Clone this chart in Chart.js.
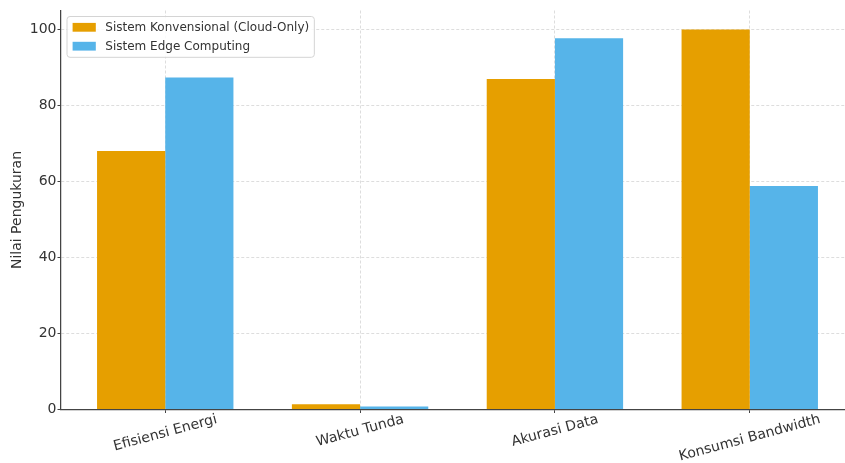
<!DOCTYPE html>
<html>
<head>
<meta charset="utf-8">
<script src="https://cdn.jsdelivr.net/npm/chart.js@4/dist/chart.umd.min.js"></script>
<style>
  html, body { margin: 0; padding: 0; background: #fff; overflow: hidden; width: 845px; height: 463px; }
  canvas { display: block; }
</style>
</head>
<body>
<canvas id="c" width="854" height="463"></canvas>
<script>
// Measured values per category
const categories = ['Efisiensi Energi', 'Waktu Tunda', 'Akurasi Data', 'Konsumsi Bandwidth'];
const seriesNames = ['Sistem Konvensional (Cloud-Only)', 'Sistem Edge Computing'];
const cloudOnly = [68, 1.4, 87, 100];
const edgeComputing = [87.4, 0.8, 97.7, 58.8];
const yTicks = [0, 20, 40, 60, 80, 100];
const yLabel = 'Nilai Pengukuran';

const FONT = "'DejaVu Sans', sans-serif";
const TEXT = '#333333';
const SPINE = '#444444';
const colors = ['#E69F00', '#56B4E9'];

const toPoints = arr => arr.map((v, i) => ({ x: i, y: v }));

// Rotated category labels, y-axis title and an in-axes legend
const decorations = {
  id: 'decorations',
  afterDraw(chart) {
    const ctx = chart.ctx;
    const xs = chart.scales.x;
    const area = chart.chartArea;

    // category labels, rotated 15 degrees, centred under each group
    const ang = 15 * Math.PI / 180;
    ctx.save();
    ctx.font = '14px ' + FONT;
    ctx.fillStyle = TEXT;
    ctx.textAlign = 'center';
    ctx.textBaseline = 'middle';
    categories.forEach((label, i) => {
      const w = ctx.measureText(label).width;
      const h = 13;
      const H = w * Math.sin(ang) + h * Math.cos(ang);
      const cx = xs.getPixelForValue(i);
      const cy = area.bottom + 3.5 + H / 2;
      ctx.save();
      ctx.translate(cx, cy);
      ctx.rotate(-ang);
      ctx.fillText(label, 0, 0);
      ctx.restore();
    });
    ctx.restore();

    // y-axis title
    ctx.save();
    ctx.font = '14px ' + FONT;
    ctx.fillStyle = TEXT;
    ctx.textAlign = 'center';
    ctx.textBaseline = 'middle';
    ctx.translate(17, (area.top + area.bottom) / 2);
    ctx.rotate(-Math.PI / 2);
    ctx.fillText(yLabel, 0, 0);
    ctx.restore();

    // legend
    ctx.save();
    ctx.font = '12px ' + FONT;
    const pad = 4.6, handleW = 23.2, handleH = 8.8, gap = 9.5, rowStep = 18.9;
    const textW = Math.max(...seriesNames.map(s => ctx.measureText(s).width));
    const left = area.left + 6, top = area.top + 6;
    const boxW = pad + handleW + gap + textW + pad + 1.5;
    const boxH = 40.8;
    ctx.beginPath();
    ctx.roundRect(left, top, boxW, boxH, 3);
    ctx.fillStyle = 'rgba(255,255,255,0.85)';
    ctx.fill();
    ctx.lineWidth = 1;
    ctx.strokeStyle = '#d4d4d4';
    ctx.stroke();
    ctx.textAlign = 'left';
    ctx.textBaseline = 'middle';
    seriesNames.forEach((name, i) => {
      const cy = top + 10.8 + i * rowStep;
      ctx.fillStyle = colors[i];
      ctx.fillRect(left + pad + 1, cy - handleH / 2, handleW, handleH);
      ctx.fillStyle = TEXT;
      ctx.fillText(name, left + pad + 1 + handleW + gap, cy + 0.5);
    });
    ctx.restore();
  }
};

new Chart(document.getElementById('c'), {
  type: 'bar',
  data: {
    datasets: [
      { label: seriesNames[0], data: toPoints(cloudOnly), backgroundColor: colors[0], borderWidth: 0 },
      { label: seriesNames[1], data: toPoints(edgeComputing), backgroundColor: colors[1], borderWidth: 0 }
    ]
  },
  options: {
    responsive: false,
    devicePixelRatio: 1,
    animation: false,
    events: [],
    layout: { padding: { top: 10.5, right: 0, bottom: 0, left: 0 } },
    datasets: { bar: { categoryPercentage: 0.7, barPercentage: 1.0 } },
    plugins: { legend: { display: false }, tooltip: { enabled: false }, title: { display: false } },
    scales: {
      x: {
        type: 'linear',
        offset: false,
        min: -0.535,
        max: 3.535,
        afterBuildTicks: s => { s.ticks = categories.map((_, i) => ({ value: i })); },
        afterFit: s => { s.height = 53.5; },
        ticks: { display: false },
        grid: {
          offset: false,
          color: 'rgba(0,0,0,0.17)', lineWidth: 0.8,
          tickColor: SPINE, tickLength: 3.5, tickWidth: 1, tickBorderDash: []
        },
        border: { display: true, color: SPINE, width: 1.25, dash: [3, 2] }
      },
      y: {
        min: 0,
        max: 105,
        afterBuildTicks: s => { s.ticks = yTicks.map(v => ({ value: v })); },
        afterFit: s => { s.width = 61; },
        ticks: { font: { family: FONT, size: 14 }, color: TEXT, padding: 1 },
        grid: {
          color: 'rgba(0,0,0,0.17)', lineWidth: 0.8,
          tickColor: SPINE, tickLength: 3.5, tickWidth: 1, tickBorderDash: []
        },
        border: { display: true, color: SPINE, width: 1.25, dash: [3, 2] }
      }
    }
  },
  plugins: [decorations]
});
</script>
</body>
</html>
